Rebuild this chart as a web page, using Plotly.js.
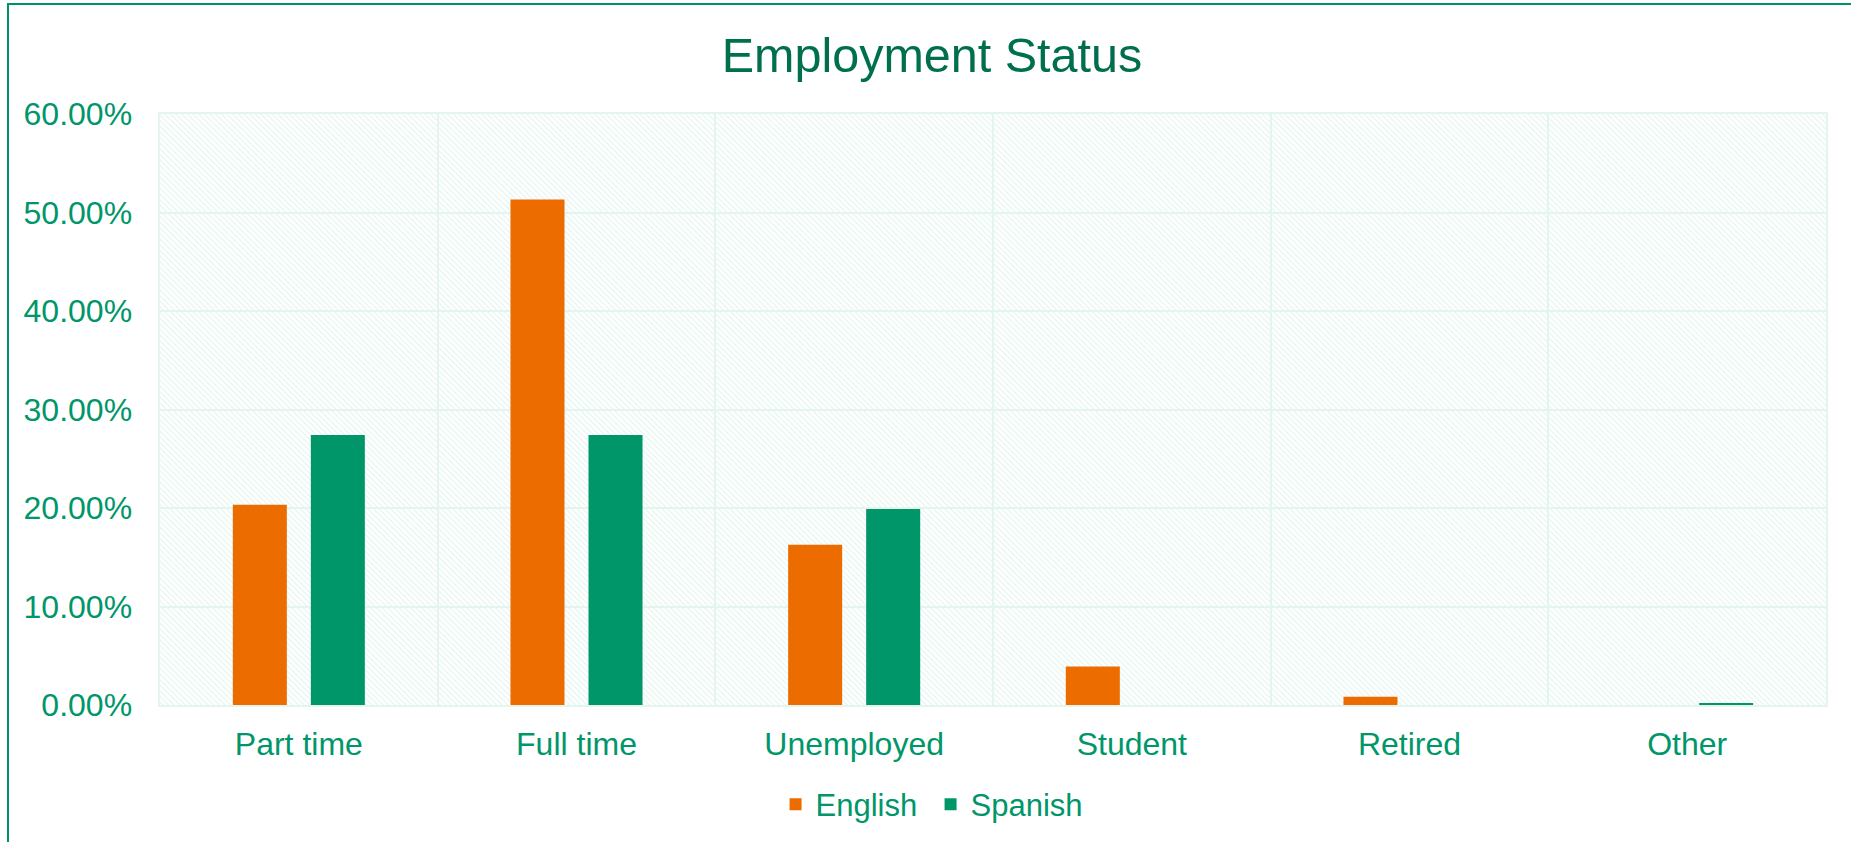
<!DOCTYPE html>
<html>
<head>
<meta charset="utf-8">
<script src="https://cdn.plot.ly/plotly-3.0.1.min.js"></script>
<style>
  html, body { margin: 0; padding: 0; background: #ffffff; }
  #wrap { position: relative; width: 1851px; height: 842px; overflow: hidden; }
  #chart { position: absolute; left: 0; top: 0; width: 1851px; height: 842px; }
  #frame { position: absolute; left: 7px; top: 3px; width: 1851px; height: 850px;
           border-left: 2px solid #00916A; border-top: 2px solid #00916A; pointer-events: none; }
</style>
</head>
<body>
<div id="wrap">
  <div id="chart"></div>
  <div id="frame"></div>
</div>
<script>
// ---- data ----
const categories = ['Part time', 'Full time', 'Unemployed', 'Student', 'Retired', 'Other'];
const seriesNames = ['English', 'Spanish'];
const englishValues = [0.2032, 0.5133, 0.1627, 0.0390, 0.0085, 0];
const spanishValues = [0.2741, 0.2741, 0.1991, 0, 0, 0.0021];
const yTickValues = [0, 0.1, 0.2, 0.3, 0.4, 0.5, 0.6];

// ---- style ----
const ORANGE = '#ED6C00';
const GREEN = '#00966A';
const TEXT = '#00966A';
const TITLE = '#006F4E';
const GRID = '#E4F5EE';
const FONT = 'Liberation Sans, Arial, sans-serif';

const hatchSvg =
  '<svg xmlns="http://www.w3.org/2000/svg" width="1666" height="592">' +
  '<defs><pattern id="p" width="4" height="4" patternUnits="userSpaceOnUse" patternTransform="rotate(45)">' +
  '<rect x="0" y="0" width="4" height="1.3" fill="#E4F6EF"/></pattern></defs>' +
  '<rect x="0" y="0" width="1666" height="592" fill="#ffffff"/>' +
  '<rect x="0" y="0" width="1666" height="592" fill="url(#p)"/></svg>';
const hatchUri = 'data:image/svg+xml;charset=utf-8,' + encodeURIComponent(hatchSvg);

const traces = [
  { type: 'bar', name: seriesNames[0], x: categories, y: englishValues,
    marker: { color: ORANGE }, hoverinfo: 'skip' },
  { type: 'bar', name: seriesNames[1], x: categories, y: spanishValues,
    marker: { color: GREEN }, hoverinfo: 'skip' }
];

const layout = {
  width: 1851, height: 842,
  margin: { l: 160, r: 25, t: 113.5, b: 136.5, pad: 0 },
  paper_bgcolor: '#ffffff',
  plot_bgcolor: 'rgba(0,0,0,0)',
  font: { family: FONT, color: TEXT, size: 31 },
  title: {
    text: 'Employment Status',
    font: { family: FONT, size: 48.5, color: TITLE },
    xref: 'container', yref: 'container',
    x: 0.5035, y: 0.935, xanchor: 'center', yanchor: 'middle'
  },
  barmode: 'group',
  bargap: 0.438,
  bargroupgap: 0.3077,
  xaxis: {
    type: 'category',
    tickson: 'boundaries',
    showgrid: true, gridcolor: GRID, gridwidth: 2,
    showline: true, linecolor: GRID, linewidth: 2, mirror: true,
    zeroline: false,
    ticks: 'outside', ticklen: 35, tickcolor: 'rgba(0,0,0,0)',
    ticklabelstandoff: 10,
    tickfont: { family: FONT, size: 32, color: TEXT },
    fixedrange: true
  },
  yaxis: {
    range: [0, 0.6],
    tickvals: yTickValues,
    tickformat: '.2%',
    showgrid: true, gridcolor: GRID, gridwidth: 2,
    showline: true, linecolor: GRID, linewidth: 2, mirror: true,
    zeroline: false,
    ticks: 'outside', ticklen: 19.5, tickcolor: 'rgba(0,0,0,0)',
    tickfont: { family: FONT, size: 32, color: TEXT },
    fixedrange: true
  },
  showlegend: true,
  legend: {
    orientation: 'h',
    xref: 'container', yref: 'container',
    x: 0.419, y: 0.0443, xanchor: 'left', yanchor: 'middle',
    entrywidth: 110, entrywidthmode: 'pixels',
    font: { family: FONT, size: 31, color: TEXT },
    bgcolor: 'rgba(0,0,0,0)',
    itemclick: false, itemdoubleclick: false
  },
  images: [{
    source: hatchUri, xref: 'paper', yref: 'paper',
    x: 0, y: 1, sizex: 1, sizey: 1, xanchor: 'left', yanchor: 'top',
    sizing: 'stretch', layer: 'below'
  }]
};

Plotly.newPlot('chart', traces, layout, { displayModeBar: false, staticPlot: true });
</script>
</body>
</html>
